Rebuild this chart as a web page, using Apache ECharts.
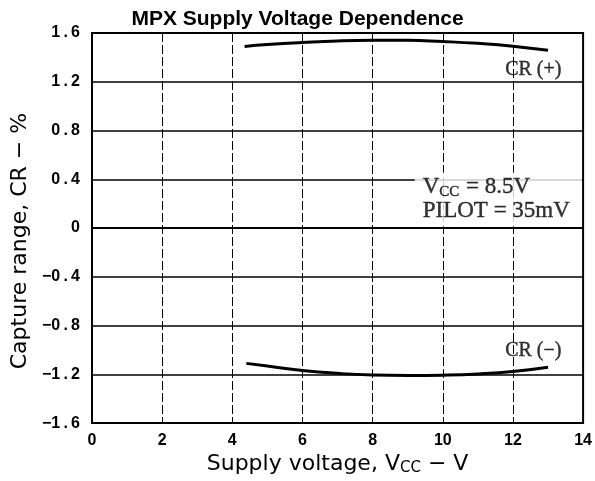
<!DOCTYPE html>
<html>
<head>
<meta charset="utf-8">
<script src="https://cdn.jsdelivr.net/npm/echarts@6/dist/echarts.min.js"></script>
<style>
  html, body { margin: 0; padding: 0; background: #fff; }
  #chart { width: 595px; height: 481px; }
</style>
</head>
<body>
<div id="chart"></div>
<script>
// Capture range vs. supply voltage (MPX)
const xTicks = [0, 2, 4, 6, 8, 10, 12, 14];
const yTicks = [-1.6, -1.2, -0.8, -0.4, 0, 0.4, 0.8, 1.2, 1.6];

// CR(+) curve, [Vcc, %]
const crPlus = [
  [4.35, 1.49], [5, 1.505], [6, 1.522], [7, 1.535], [8, 1.54],
  [9, 1.54], [10, 1.53], [11, 1.515], [12, 1.492], [13, 1.458]
];
// CR(-) curve, [Vcc, %]
const crMinus = [
  [4.4, -1.11], [5, -1.132], [6, -1.168], [7, -1.192], [8, -1.206],
  [9, -1.21], [10, -1.207], [11, -1.197], [12, -1.177], [13, -1.142]
];

// curve labels and condition note, anchored in data coordinates
const curveLabels = [
  { value: [12.58, 1.30], text: 'CR (+)' },
  { value: [12.58, -1.01], text: 'CR (\u2212)' }
];
const conditionNote = { value: [9.2, 0.235] };

const serif = '"Liberation Serif", "DejaVu Serif", serif';
const sans = '"Liberation Sans", Arial, sans-serif';
const wideSans = '"DejaVu Sans", "Liberation Sans", sans-serif';

const serifText = { fontFamily: serif, color: '#000', textBorderColor: '#000', textBorderWidth: 0.4 };

// tick numbers are printed with a spaced decimal point, e.g. "1 . 2"
function tickText(v) {
  if (Math.abs(v) < 1e-9) return '0';
  const s = Math.abs(v).toFixed(1).replace('.', '\u2009.\u2009');
  return (v < 0 ? '\u2212' : '') + s;
}

const chart = echarts.init(document.getElementById('chart'), null, { renderer: 'canvas' });

chart.setOption({
  backgroundColor: '#fff',
  animation: false,
  title: {
    text: 'MPX Supply Voltage Dependence',
    left: 'center',
    top: 4,
    textStyle: { fontFamily: sans, fontWeight: 'bold', fontSize: 21, color: '#000' }
  },
  grid: { left: 92, right: 8, top: 33, bottom: 52, show: true, borderColor: '#000', borderWidth: 2 },
  xAxis: {
    type: 'value',
    min: xTicks[0],
    max: xTicks[xTicks.length - 1],
    interval: 2,
    name: 'Supply voltage, V{sub|CC} \u2212 V',
    nameLocation: 'middle',
    nameGap: 28,
    nameTextStyle: {
      fontFamily: wideSans, fontSize: 22, color: '#000',
      rich: { sub: { fontFamily: wideSans, fontSize: 15, color: '#000', verticalAlign: 'bottom', padding: [9, 0, 0, 0] } }
    },
    axisLine: { show: true, lineStyle: { color: '#000', width: 2 } },
    axisTick: { show: false },
    axisLabel: { fontFamily: sans, fontWeight: 'bold', fontSize: 16, color: '#000', margin: 9 },
    splitLine: { show: true, lineStyle: { color: '#000', width: 1, type: [9, 3] } }
  },
  yAxis: {
    type: 'value',
    min: yTicks[0],
    max: yTicks[yTicks.length - 1],
    interval: 0.4,
    name: 'Capture range, CR \u2212 %',
    nameLocation: 'middle',
    nameGap: 56,
    nameTextStyle: { fontFamily: wideSans, fontSize: 22, color: '#000', padding: [0, 26, 0, 0] },
    axisLine: { show: true, lineStyle: { color: '#000', width: 2 } },
    axisTick: { show: false },
    axisLabel: {
      fontFamily: sans, fontWeight: 'bold', fontSize: 16, color: '#000', margin: 12,
      formatter: tickText
    },
    splitLine: { show: true, lineStyle: { color: '#000', width: 1.6 } }
  },
  series: [
    {
      name: 'CR(+)', type: 'line', data: crPlus, smooth: true, symbol: 'none',
      lineStyle: { color: '#000', width: 3 }, z: 5
    },
    {
      name: 'CR(-)', type: 'line', data: crMinus, smooth: true, symbol: 'none',
      lineStyle: { color: '#000', width: 3 }, z: 5
    },
    {
      name: 'curve labels', type: 'scatter', symbolSize: 0, z: 6,
      data: curveLabels.map(d => ({ value: d.value, name: d.text })),
      label: Object.assign({
        show: true, position: 'inside', formatter: p => p.name, fontSize: 20
      }, serifText)
    },
    {
      name: 'conditions', type: 'scatter', symbolSize: 0, z: 7,
      data: [{ value: conditionNote.value }],
      label: {
        show: true, position: 'inside', align: 'left', verticalAlign: 'middle',
        backgroundColor: '#fff', padding: [3, 12, 3, 8], lineHeight: 24,
        formatter: '{a|V}{s|CC}{a| = 8.5V}\n{a|PILOT = 35mV}',
        rich: {
          a: Object.assign({ fontSize: 23, lineHeight: 24 }, serifText),
          s: Object.assign({ fontSize: 15, lineHeight: 24, verticalAlign: 'bottom', padding: [10, 1, 0, 0] }, serifText)
        }
      }
    }
  ]
});
</script>
</body>
</html>
